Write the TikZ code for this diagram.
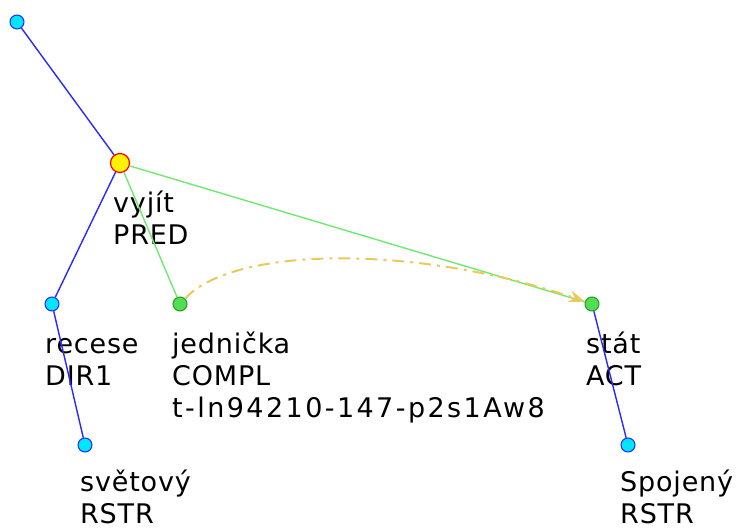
\documentclass[tikz,border=0pt]{standalone}
\usepackage{fontspec}
\setmainfont[LetterSpace=3]{DejaVu Sans}
\usepackage{xcolor}
\usepackage{tikz}
\usetikzlibrary{arrows.meta, positioning, calc}
\definecolor{edgeblue}{RGB}{40, 40, 255}
\definecolor{edgegreen}{RGB}{110, 235, 110}
\definecolor{corefgold}{RGB}{235, 200, 90}
\definecolor{nodecyan}{RGB}{0, 230, 255}
\definecolor{nodegreen}{RGB}{85, 220, 85}
\definecolor{nodegreenline}{RGB}{30, 160, 30}

\begin{document}
\begin{tikzpicture}[x=1pt, y=1pt,
    tnode/.style={circle, draw=edgeblue, fill=nodecyan, line width=1pt, inner sep=0pt, minimum size=14pt},
    gnode/.style={circle, draw=nodegreenline, fill=nodegreen, line width=1pt, inner sep=0pt, minimum size=14pt},
    pred/.style={circle, draw=red, fill=yellow, line width=1.2pt, inner sep=0pt, minimum size=19pt},
    tlabel/.style={anchor=base west, align=left, inner sep=0pt, font=\fontsize{27}{32}\selectfont},
    bedge/.style={draw=edgeblue, line width=1.4pt},
    gedge/.style={draw=edgegreen, line width=1.4pt}
]
\useasboundingbox (0,0) rectangle (736,530);

\node[tnode] (root) at (17,508) {};
\node[pred] (vyjit) at (120,367) {};
\node[tnode] (recese) at (52,226) {};
\node[gnode] (jednicka) at (180,226) {};
\node[gnode] (stat) at (592,226) {};
\node[tnode] (svetovy) at (85,85) {};
\node[tnode] (spojeny) at (628,85) {};

% base = last line, so offsets go one line spacing lower per extra line
\node[tlabel] (vyjit-t) at ($(vyjit)+(-7,-82)$) {vyjít\\PRED};
\node[tlabel] (recese-t) at ($(recese)+(-7,-82)$) {recese\\DIR1};
\node[tlabel] (jednicka-t) at ($(jednicka)+(-8,-114)$) {jednička\\COMPL\\{\addfontfeature{LetterSpace=9}t-ln94210-147-p2s1Aw8}};
\node[tlabel] (stat-t) at ($(stat)+(-6,-82)$) {stát\\ACT};
\node[tlabel] (svetovy-t) at ($(svetovy)+(-5,-79)$) {světový\\RSTR};
\node[tlabel] (spojeny-t) at ($(spojeny)+(-8,-79)$) {Spojený\\RSTR};

\draw[bedge] (root) -- (vyjit);
\draw[bedge] (vyjit) -- (recese);
\draw[bedge] (recese) -- (svetovy);
\draw[bedge] (stat) -- (spojeny);
\draw[gedge] (vyjit) -- (jednicka);
\draw[gedge] (vyjit) -- (stat);

\draw[corefgold, line width=2pt, dash pattern=on 12pt off 6pt on 3pt off 6pt, -{Stealth[length=16pt, width=12pt]}]
    (jednicka) .. controls (235,285) and (420,285) .. (stat);
\end{tikzpicture}
\end{document}
